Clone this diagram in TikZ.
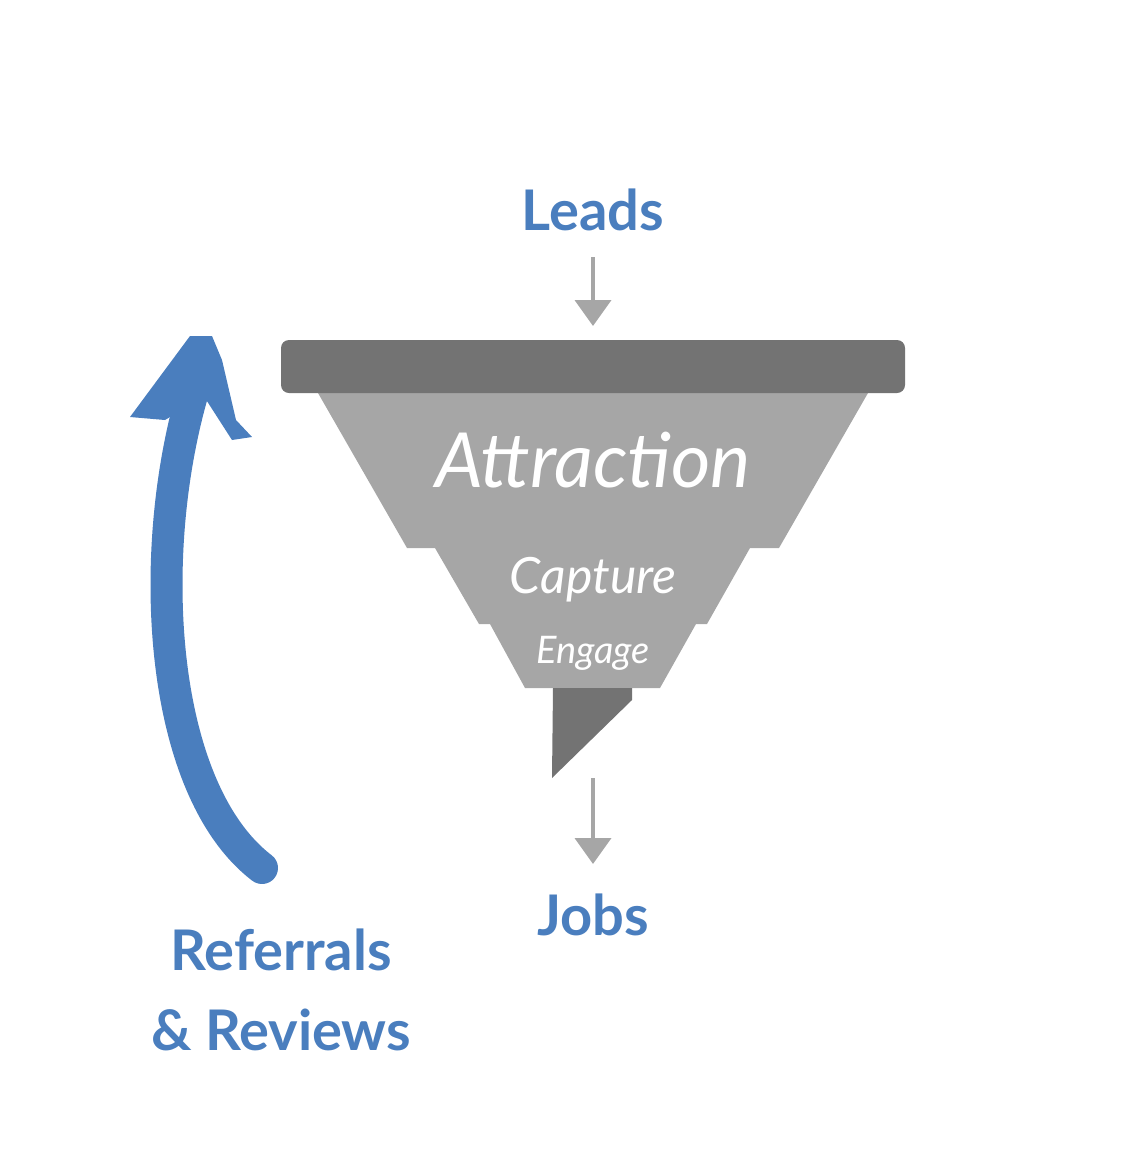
\documentclass[tikz,border=0pt]{standalone}
\usepackage{fontspec}
\setmainfont{Lato}
\definecolor{bl}{HTML}{4A7EBE}
\definecolor{dg}{HTML}{737373}
\definecolor{lg}{HTML}{A6A6A6}
\begin{document}
\begin{tikzpicture}[x=1pt,y=-1pt,
 lbl/.style={text=bl,font=\bfseries\fontsize{56}{64}\selectfont},
 stage/.style={text=white,font=\itshape},
 garr/.style={draw=lg,line width=4pt,-{Triangle[length=26pt,width=36pt]}}]
\useasboundingbox (0,0) rectangle (1148,1160);
\usetikzlibrary{arrows.meta}
\fill[lg] (318,393)--(868,393)--(779,548)--(750,548)--(707,624)--(696,624)--(660,688)--(525,688)--(490,624)--(479,624)--(435,548)--(407,548)--cycle;
\fill[dg,rounded corners=8pt] (281,340) rectangle (905,393);
\fill[dg] (553,688)--(632,688)--(632,700)--(552,778)--cycle;
\node[stage,font=\itshape\fontsize{76}{80}\selectfont] (att) at (593,460) {Attraction};
\node[stage,font=\itshape\fontsize{50}{56}\selectfont] (cap) at (593,580) {Capture};
\node[stage,font=\itshape\fontsize{38}{44}\selectfont] (eng) at (593,653) {Engage};
\node[lbl] (leads) at (593,210) {Leads};
\node[lbl] (jobs) at (593,915) {Jobs};
\node[lbl,align=center,font=\bfseries\fontsize{56}{80}\selectfont] (ref) at (281,990) {Referrals\\ \& Reviews};
\coordinate (l1) at (593,257); \coordinate (l2) at (593,326);
\coordinate (j1) at (593,778); \coordinate (j2) at (593,864);
\draw[garr] (l1)--(l2);
\draw[garr] (j1)--(j2);
\draw[bl,line width=32pt,line cap=round] (262,868) .. controls (160,790) and (145,560) .. (192,395);
\fill[bl] (130,417)--(190,336)--(212,336)--(222,360)--(236,420)--(252,437)--(232,440)--(205,398)--(190,405)--(165,420)--cycle;
\end{tikzpicture}
\end{document}
